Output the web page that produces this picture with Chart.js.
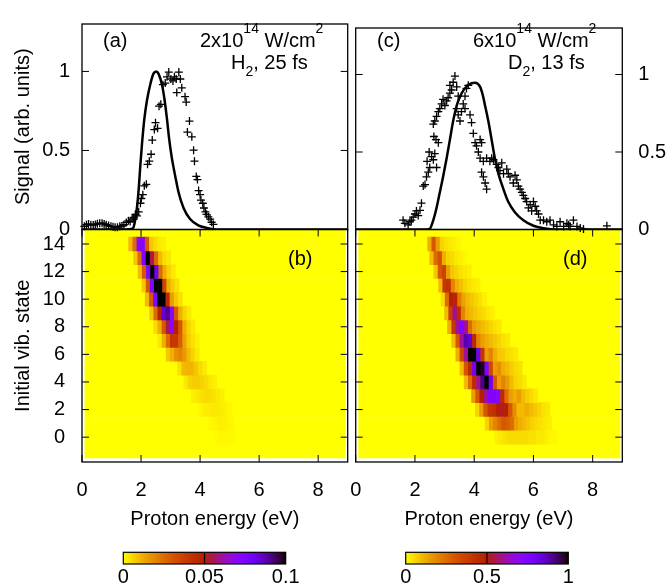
<!DOCTYPE html>
<html>
<head>
<meta charset="utf-8">
<title>Proton energy spectra</title>
<script src="https://cdn.jsdelivr.net/npm/chart.js@4.4.1/dist/chart.umd.min.js"></script>
<style>
html,body{margin:0;padding:0;background:#fff;}
#wrap{position:relative;width:670px;height:585px;overflow:hidden;background:#fff;}
#wrap canvas{position:absolute;left:0;top:0;}
</style>
</head>
<body>
<div id="wrap">
<canvas id="cB" width="670" height="585"></canvas>
<canvas id="cD" width="670" height="585"></canvas>
<canvas id="cBarB" width="670" height="585"></canvas>
<canvas id="cBarD" width="670" height="585"></canvas>
<canvas id="cA" width="670" height="585"></canvas>
<canvas id="cC" width="670" height="585"></canvas>
</div>
<script>
// ================= DATA =================
const energyTicks = [0, 2, 4, 6, 8];
const signalTicks = [0, 0.5, 1];
const vibTicks = [0, 2, 4, 6, 8, 10, 12, 14];
const vibStates = [0, 1, 2, 3, 4, 5, 6, 7, 8, 9, 10, 11, 12, 13, 14];
const backgroundRows = [-1, 0, 1, 2, 3, 4, 5, 6, 7, 8, 9, 10, 11, 12, 13, 14, 15];
const imageEnergyRange = [0.1, 8.92];
const binWidth = 0.14;
const colorbarTicksB = [0, 0.05, 0.1];
const colorbarTicksD = [0, 0.5, 1];

// (a) H2, 2x10^14 W/cm^2, 25 fs : experiment (crosses)
const expA_E = [0.08,0.15,0.22,0.30,0.38,0.45,0.52,0.60,0.68,0.75,0.82,0.90,0.98,1.05,1.12,1.20,1.28,1.35,1.42,1.50,
  1.57,1.63,1.70,1.75,1.81,1.86,1.92,1.98,2.01,2.06,2.11,2.18,2.22,2.28,2.34,2.38,2.45,2.49,2.56,2.61,
  2.67,2.74,2.82,2.88,2.94,3.01,3.08,3.13,3.19,3.21,3.28,3.33,3.38,3.49,3.53,3.57,3.64,3.72,3.78,3.81,
  3.87,3.91,3.95,4.00,4.03,4.09,4.13,4.18,4.22,4.28,4.34,4.39,4.45];
const expA_S = [0.020,0.030,0.035,0.030,0.028,0.032,0.036,0.040,0.040,0.035,0.030,0.025,0.020,0.018,0.015,0.015,0.020,0.022,0.030,0.045,
  0.055,0.050,0.066,0.076,0.096,0.086,0.112,0.166,0.196,0.220,0.276,0.286,0.412,0.432,0.476,0.566,0.632,0.676,0.640,0.780,
  0.792,0.916,0.926,0.966,0.996,0.952,0.940,0.966,0.952,0.866,0.996,0.952,0.896,0.840,0.806,0.616,0.686,0.586,0.502,0.432,
  0.336,0.316,0.246,0.220,0.186,0.166,0.136,0.112,0.096,0.080,0.066,0.046,0.032];
// (a) theory (solid line)
const theoA_E = [0.0,1.50,1.70,1.75,1.86,1.92,1.98,2.03,2.11,2.20,2.31,2.42,2.52,2.59,2.71,2.80,2.88,2.95,3.04,3.16,3.27,3.44,3.66,3.94,4.23,4.56,9.0];
const theoA_S = [0,0,0.005,0.016,0.136,0.256,0.416,0.536,0.696,0.816,0.916,0.986,1.0,0.986,0.916,0.816,0.696,0.576,0.456,0.336,0.236,0.136,0.066,0.026,0.010,0,0];

// (c) D2, 6x10^14 W/cm^2, 13 fs : experiment (crosses)
const expC_E = [1.60,1.66,1.77,1.83,1.88,1.94,2.00,2.05,2.11,2.17,2.22,2.28,2.34,2.39,2.45,2.50,2.41,2.48,2.56,2.62,
  2.67,2.73,2.71,2.64,2.79,2.62,2.67,2.73,2.79,2.84,2.90,2.95,3.01,3.07,3.12,3.18,3.18,3.24,3.29,3.35,
  3.41,3.46,3.41,3.46,3.52,3.57,3.63,3.69,3.74,3.80,3.69,3.86,3.91,3.97,4.03,4.08,4.14,4.20,4.25,4.20,
  4.31,4.25,4.31,4.37,4.42,4.42,4.53,4.59,4.65,4.76,4.82,4.87,4.93,4.99,5.10,5.15,5.21,5.32,5.38,5.44,
  5.49,5.55,5.61,5.66,5.72,5.77,5.83,5.89,5.94,6.00,6.06,6.11,6.17,6.23,6.34,6.45,6.56,6.68,6.79,6.90,
  7.02,7.13,7.19,7.24,7.35,7.47,7.58,7.69,8.48];
const expC_S = [0.06,0.04,0.03,0.05,0.06,0.08,0.10,0.12,0.09,0.124,0.17,0.28,0.29,0.34,0.37,0.40,0.44,0.50,0.47,0.45,
  0.49,0.40,0.58,0.60,0.56,0.68,0.70,0.73,0.76,0.78,0.81,0.84,0.80,0.83,0.85,0.88,0.93,0.90,0.95,0.99,
  0.92,0.86,0.78,0.74,0.70,0.76,0.81,0.86,0.91,0.93,0.78,0.74,0.69,0.62,0.56,0.54,0.50,0.58,0.56,0.46,
  0.44,0.37,0.34,0.30,0.26,0.46,0.44,0.46,0.45,0.42,0.40,0.38,0.43,0.36,0.39,0.36,0.34,0.30,0.35,0.32,
  0.28,0.26,0.24,0.22,0.20,0.18,0.14,0.16,0.12,0.18,0.15,0.12,0.10,0.06,0.06,0.05,0.06,0.03,0.02,0.05,
  0.02,0.04,0.03,0.02,0.06,0.02,0.01,0.004,0.024];
// (c) theory (solid line)
const theoC_E = [0.0,2.40,2.50,2.62,2.73,2.84,2.95,3.07,3.18,3.29,3.41,3.52,3.63,3.80,4.03,4.20,4.29,4.37,4.48,4.59,4.70,4.82,4.99,5.15,5.38,5.66,6.00,6.34,6.79,9.0];
const theoC_S = [0,0,0.004,0.06,0.14,0.24,0.34,0.46,0.58,0.70,0.80,0.857,0.896,0.932,0.946,0.92,0.867,0.797,0.697,0.578,0.458,0.359,0.259,0.179,0.110,0.060,0.024,0.008,0,0];

// (b) yield per initial vibrational state (rows v = 0..14): first bin energy + bin values (colour scale 0..0.1)
const heatB_start = [4.50, 4.30, 3.95, 3.70, 3.45, 3.24, 2.85, 2.57, 2.43, 2.29, 2.14, 2.03, 1.90, 1.75, 1.58];
const heatB_values = [
  [0.0005,0.001,0.001,0.001,0.0005],
  [0.001,0.0015,0.002,0.002,0.0015,0.001],
  [0.001,0.002,0.0025,0.003,0.003,0.0025,0.002,0.001],
  [0.002,0.003,0.004,0.005,0.005,0.004,0.003,0.002],
  [0.003,0.006,0.007,0.007,0.006,0.005,0.003,0.002],
  [0.004,0.010,0.011,0.011,0.008,0.005,0.003],
  [0.008,0.012,0.018,0.020,0.016,0.010,0.006,0.003],
  [0.003,0.012,0.025,0.040,0.040,0.028,0.014,0.007,0.004,0.002],
  [0.005,0.012,0.030,0.055,0.070,0.050,0.030,0.012,0.006,0.003],
  [0.008,0.025,0.050,0.085,0.090,0.070,0.030,0.012,0.006,0.003],
  [0.010,0.030,0.075,0.100,0.100,0.045,0.015,0.008,0.004],
  [0.008,0.030,0.075,0.100,0.100,0.035,0.012,0.007,0.004],
  [0.010,0.030,0.075,0.100,0.080,0.025,0.012,0.006,0.003],
  [0.008,0.025,0.075,0.100,0.055,0.025,0.010,0.005,0.003],
  [0.010,0.025,0.072,0.072,0.030,0.008,0.005,0.003,0.002]
];
const heatB_max = 0.1;

// (d) yield per initial vibrational state (colour scale 0..1)
const heatD_start = [4.70, 4.37, 4.04, 3.91, 3.66, 3.52, 3.38, 3.24, 3.10, 3.00, 2.88, 2.80, 2.64, 2.50, 2.43];
const heatD_values = [
  [0.02,0.03,0.04,0.05,0.05,0.05,0.05,0.05,0.04,0.04,0.03,0.03,0.02,0.01,0.01],
  [0.06,0.15,0.20,0.25,0.30,0.28,0.25,0.15,0.12,0.10,0.08,0.06,0.05,0.04,0.03,0.02],
  [0.06,0.15,0.30,0.40,0.42,0.50,0.52,0.50,0.30,0.18,0.10,0.10,0.12,0.10,0.08,0.06,0.04,0.03],
  [0.15,0.30,0.50,0.60,0.75,0.75,0.72,0.45,0.25,0.15,0.12,0.15,0.10,0.07,0.05,0.03],
  [0.10,0.25,0.45,0.60,0.92,1.00,0.80,0.30,0.15,0.20,0.15,0.10,0.06,0.05,0.03],
  [0.10,0.30,0.45,0.80,1.00,0.98,0.75,0.35,0.15,0.18,0.12,0.10,0.07,0.05,0.04],
  [0.12,0.35,0.60,1.00,1.00,0.80,0.40,0.15,0.20,0.12,0.08,0.07,0.05,0.04,0.03],
  [0.10,0.30,0.60,0.88,0.85,0.45,0.20,0.15,0.12,0.10,0.08,0.06,0.04,0.03],
  [0.12,0.40,0.62,0.75,0.60,0.25,0.15,0.12,0.10,0.08,0.06,0.04,0.03],
  [0.10,0.38,0.60,0.45,0.20,0.12,0.10,0.08,0.06,0.05,0.03,0.02],
  [0.05,0.25,0.50,0.48,0.22,0.14,0.10,0.08,0.06,0.04,0.02],
  [0.10,0.40,0.42,0.20,0.12,0.09,0.06,0.04,0.03,0.02],
  [0.08,0.30,0.36,0.15,0.08,0.06,0.04,0.03,0.02],
  [0.10,0.25,0.32,0.12,0.06,0.05,0.03,0.02,0.01],
  [0.12,0.30,0.15,0.06,0.04,0.03,0.02,0.01]
];
const heatD_max = 1;

// ================= STYLE / HELPERS =================
const FONT = "'Liberation Sans', Arial, Helvetica, sans-serif";
Chart.defaults.font.family = FONT;
Chart.defaults.font.size = 20;
Chart.defaults.color = '#000';

// reversed gnuplot default palette (yellow -> orange -> red -> purple -> black)
function heatColor(f) {
  const x = Math.min(1, Math.max(0, 1 - f));
  const r = Math.sqrt(x), g = x * x * x, b = Math.max(0, Math.sin(2 * Math.PI * x));
  return 'rgb(' + Math.round(r * 255) + ',' + Math.round(g * 255) + ',' + Math.round(b * 255) + ')';
}
function fixedTicks(list) { return (scale) => { scale.ticks = list.map(v => ({ value: v })); }; }
function pts(xs, ys) { return xs.map((x, i) => ({ x: x, y: ys[i] })); }
function cells(starts, rows) {
  const out = [];
  vibStates.forEach((v, r) => {
    rows[r].forEach((val, k) => {
      out.push({ y: v, x: [starts[r] + k * binWidth, starts[r] + (k + 1) * binWidth], v: val });
    });
  });
  return out;
}
const noGrid = { display: false, drawTicks: false };
const noBorder = { display: false };

function framePlugin(o) {
  return {
    id: 'frame',
    afterDatasetsDraw(chart) {
      const { ctx, chartArea: a, scales } = chart;
      ctx.save();
      ctx.strokeStyle = '#000';
      ctx.lineWidth = 1;
      ctx.beginPath();
      (o.yTicks || []).forEach(v => {
        const y = scales.y.getPixelForValue(v);
        ctx.moveTo(a.left, y); ctx.lineTo(a.left + o.len, y);
        ctx.moveTo(a.right, y); ctx.lineTo(a.right - o.len, y);
      });
      (o.xTicks || []).forEach(v => {
        const x = scales.x.getPixelForValue(v);
        ctx.moveTo(x, a.bottom); ctx.lineTo(x, a.bottom - o.len);
        ctx.moveTo(x, a.top); ctx.lineTo(x, a.top + o.len);
      });
      ctx.stroke();
      ctx.lineWidth = 1.3;
      ctx.strokeRect(a.left, a.top, a.right - a.left, a.bottom - a.top);
      ctx.restore();
    }
  };
}
function textPlugin(items) {
  return {
    id: 'annot',
    afterDraw(chart) {
      const ctx = chart.ctx;
      ctx.save();
      ctx.fillStyle = '#000';
      ctx.textBaseline = 'middle';
      ctx.textAlign = 'left';
      items.forEach(it => {
        let x = it.x;
        it.runs.forEach(([t, kind]) => {
          const size = kind === 'n' ? 20 : 14;
          const dy = kind === 'sup' ? -12 : (kind === 'sub' ? 9 : 0);
          ctx.font = size + 'px ' + FONT;
          ctx.fillText(t, x, it.y + dy);
          x += ctx.measureText(t).width;
        });
      });
      ctx.restore();
    }
  };
}
function colorbarPlugin(midTick) {
  return {
    id: 'cbar',
    beforeDatasetsDraw(chart) {
      const { ctx, chartArea: a, scales: { x } } = chart;
      const x0 = x.getPixelForValue(x.min), x1 = x.getPixelForValue(x.max);
      const g = ctx.createLinearGradient(x0, 0, x1, 0);
      for (let i = 0; i <= 50; i++) g.addColorStop(i / 50, heatColor(i / 50));
      ctx.save();
      ctx.fillStyle = g;
      ctx.fillRect(x0, a.top, x1 - x0, a.bottom - a.top);
      ctx.strokeStyle = '#000';
      ctx.lineWidth = 1.2;
      const xm = x.getPixelForValue(midTick);
      ctx.beginPath(); ctx.moveTo(xm, a.top); ctx.lineTo(xm, a.bottom); ctx.stroke();
      ctx.strokeRect(x0, a.top, x1 - x0, a.bottom - a.top);
      ctx.restore();
    }
  };
}
const base = { responsive: false, animation: false, events: [], devicePixelRatio: 1,
  plugins: { legend: { display: false }, tooltip: { enabled: false } } };

// ================= TOP PANELS =================
function spectrum(id, exp, theo, padding, yAxis, annot) {
  return new Chart(document.getElementById(id), {
    type: 'scatter',
    data: { datasets: [
      { label: 'experiment', data: exp, pointStyle: 'cross', pointRadius: 4, borderColor: '#000',
        backgroundColor: '#000', borderWidth: 1.3, clip: false },
      { label: 'theory', data: theo, showLine: true, pointRadius: 0, borderColor: '#000', borderWidth: 2.5,
        cubicInterpolationMode: 'monotone', fill: false }
    ]},
    options: Object.assign({}, base, {
      layout: { padding: padding },
      scales: { x: { type: 'linear', min: 0, max: 9, display: false }, y: yAxis }
    }),
    plugins: [framePlugin({ yTicks: signalTicks, len: 7 }), textPlugin(annot)]
  });
}
spectrum('cA', pts(expA_E, expA_S), pts(theoA_E, theoA_S),
  { left: 5, top: 13.3, right: 322.3, bottom: 355.5 },
  { type: 'linear', position: 'left', min: 0, max: 1.3, grid: noGrid, border: noBorder,
    afterBuildTicks: fixedTicks(signalTicks), ticks: { padding: 12, callback: v => String(v) },
    title: { display: true, text: 'Signal (arb. units)', padding: { top: 6, bottom: 0 } },
    afterFit: s => { s.width = 77; } },
  [ { x: 103, y: 41, runs: [['(a)', 'n']] },
    { x: 200, y: 41, runs: [['2x10', 'n'], ['14', 'sup'], [' W/cm', 'n'], ['2', 'sup']] },
    { x: 231, y: 63, runs: [['H', 'n'], ['2', 'sub'], [', 25 fs', 'n']] } ]);
spectrum('cC', pts(expC_E, expC_S), pts(theoC_E, theoC_S),
  { left: 355.7, top: 13.3, right: 0, bottom: 355.5 },
  { type: 'linear', position: 'right', min: 0, max: 1.3, grid: noGrid, border: noBorder,
    afterBuildTicks: fixedTicks(signalTicks), ticks: { padding: 16, callback: v => String(v) },
    afterFit: s => { s.width = 47.7; } },
  [ { x: 377, y: 41, runs: [['(c)', 'n']] },
    { x: 473, y: 41, runs: [['6x10', 'n'], ['14', 'sup'], [' W/cm', 'n'], ['2', 'sup']] },
    { x: 508, y: 63, runs: [['D', 'n'], ['2', 'sub'], [', 13 fs', 'n']] } ]);

// ================= BOTTOM PANELS (heat maps) =================
function heatmap(id, starts, rows, vmax, padding, yAxis, annot) {
  return new Chart(document.getElementById(id), {
    type: 'bar',
    data: { datasets: [
      { label: 'yield', data: cells(starts, rows), order: 1,
        backgroundColor: c => heatColor((c.raw ? c.raw.v : 0) / vmax) },
      { label: 'background', data: backgroundRows.map(v => ({ y: v, x: imageEnergyRange, v: 0 })), order: 2,
        backgroundColor: heatColor(0) }
    ]},
    options: Object.assign({}, base, {
      indexAxis: 'y',
      datasets: { bar: { grouped: false, barPercentage: 1, categoryPercentage: 1, borderWidth: 0 } },
      layout: { padding: padding },
      scales: {
        x: { type: 'linear', position: 'bottom', min: 0, max: 9, offset: false, grid: noGrid, border: noBorder,
             afterBuildTicks: fixedTicks(energyTicks),
             ticks: { padding: 16, autoSkip: false, maxRotation: 0, callback: v => String(v) },
             title: { display: true, text: 'Proton energy (eV)', padding: { top: 0, bottom: 9 } },
             afterFit: s => { s.height = 78; } },
        y: yAxis
      }
    }),
    plugins: [framePlugin({ yTicks: vibTicks, xTicks: energyTicks, len: 7 }), textPlugin(annot)]
  });
}
heatmap('cB', heatB_start, heatB_values, heatB_max,
  { left: 5, top: 229.5, right: 322.3, bottom: 45 },
  { type: 'linear', position: 'left', min: -1.8, max: 15.05, offset: false, grid: noGrid, border: noBorder,
    afterBuildTicks: fixedTicks(vibTicks), ticks: { padding: 17, autoSkip: false, callback: v => String(v) },
    title: { display: true, text: 'Initial vib. state', padding: { top: 6, bottom: 0 } },
    afterFit: s => { s.width = 77; } },
  [ { x: 288, y: 259, runs: [['(b)', 'n']] } ]);
heatmap('cD', heatD_start, heatD_values, heatD_max,
  { left: 355.7, top: 229.5, right: 47.7, bottom: 45 },
  { type: 'linear', position: 'left', min: -1.8, max: 15.05, offset: false, display: false },
  [ { x: 563, y: 259, runs: [['(d)', 'n']] } ]);

// ================= COLOUR BARS =================
function colorbar(id, ticksList, padding) {
  return new Chart(document.getElementById(id), {
    type: 'scatter',
    data: { datasets: [] },
    options: Object.assign({}, base, {
      layout: { padding: padding },
      scales: {
        x: { type: 'linear', position: 'bottom', min: ticksList[0], max: ticksList[ticksList.length - 1],
             grid: noGrid, border: noBorder, afterBuildTicks: fixedTicks(ticksList),
             ticks: { padding: 1, autoSkip: false, maxRotation: 0, callback: v => String(v) },
             afterFit: s => { s.height = 21; } },
        y: { type: 'linear', min: 0, max: 1, display: false }
      }
    }),
    plugins: [colorbarPlugin(ticksList[1])]
  });
}
colorbar('cBarB', colorbarTicksB, { left: 123.3, right: 384.3, top: 552.3, bottom: 0 });
colorbar('cBarD', colorbarTicksD, { left: 405.7, right: 101.7, top: 552.3, bottom: 0 });
</script>
</body>
</html>
